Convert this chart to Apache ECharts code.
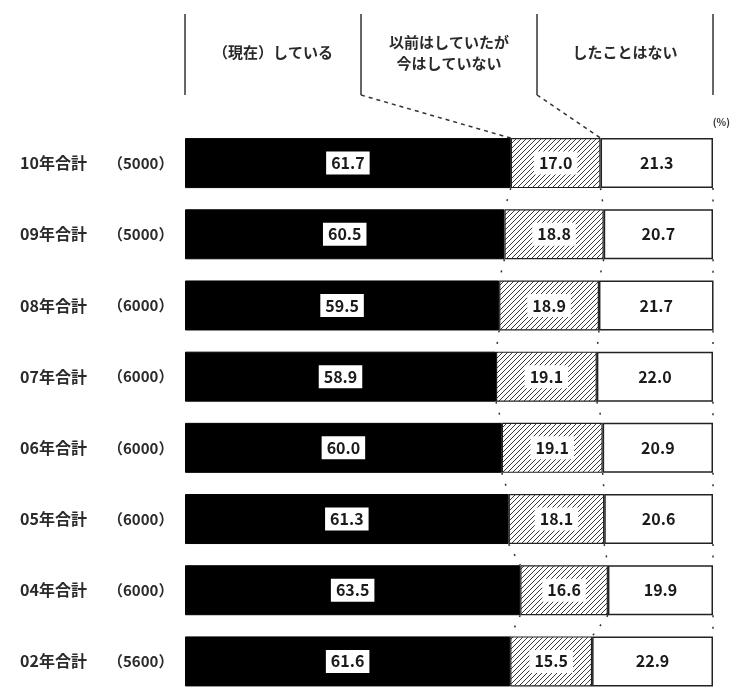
<!DOCTYPE html>
<html><head><meta charset="utf-8">
<script src="https://cdn.jsdelivr.net/npm/echarts@6/dist/echarts.min.js"></script>
<style>html,body{margin:0;padding:0;background:#fff}#c{width:732px;height:697px}</style>
</head><body><div id="c"></div>
<script>
const years = ['10年合計','09年合計','08年合計','07年合計','06年合計','05年合計','04年合計','02年合計'];
const sampleSizes = ['5000','5000','6000','6000','6000','6000','6000','5600'];
const currentlyDoing = [61.7,60.5,59.5,58.9,60.0,61.3,63.5,61.6];
const previouslyDid = [17.0,18.8,18.9,19.1,19.1,18.1,16.6,15.5];
const neverDid = [21.3,20.7,21.7,22.0,20.9,20.6,19.9,22.9];
const headerLabels = ['（現在）している','以前はしていたが\n今はしていない','したことはない'];
const unitLabel = '(%)';

const FONT = '"Noto Sans CJK JP", "Noto Sans", sans-serif';
const cum1 = currentlyDoing.slice();
const cum2 = currentlyDoing.map((v,i)=>v+previouslyDid[i]);
const BAR_W = 50;

function hatch(){
  const s=5, c=document.createElement('canvas'); c.width=s; c.height=s;
  const g=c.getContext('2d'); g.fillStyle='#fff'; g.fillRect(0,0,s,s);
  g.strokeStyle='#3a3a3a'; g.lineWidth=1;
  g.beginPath();
  g.moveTo(0,s); g.lineTo(s,0);
  g.moveTo(-1,1); g.lineTo(1,-1);
  g.moveTo(s-1,s+1); g.lineTo(s+1,s-1);
  g.stroke();
  return c;
}

const chart = echarts.init(document.getElementById('c'), null, {renderer:'canvas'});
const boxLabel = {
  show:true, position:'inside', formatter:p=>p.value.toFixed(1),
  backgroundColor:'#fff', color:'#1a1a1a', fontSize:16, fontWeight:'bold',
  fontFamily:FONT, padding:[4,5,3,5]
};
chart.setOption({
  animation:false,
  textStyle:{fontFamily:FONT},
  grid:{left:185, right:19, top:127.5, height:584, containLabel:false},
  xAxis:{type:'value', min:0, max:100, show:false},
  yAxis:{type:'category', data:years, inverse:true,
    axisLine:{show:false}, axisTick:{show:false}, splitLine:{show:false},
    axisLabel:{align:'left', margin:165, fontFamily:FONT,
      formatter:(v,i)=>'{a|'+v+'}{b|（'+sampleSizes[i]+'）}',
      rich:{a:{width:88, fontSize:16, color:'#2a2a2a', fontWeight:'bold', fontFamily:FONT},
            b:{fontSize:15, color:'#2a2a2a', fontWeight:'bold', fontFamily:FONT}}}},
  series:[
    {type:'bar', stack:'t', data:currentlyDoing, barWidth:BAR_W,
      itemStyle:{color:'#000', borderColor:'#000', borderWidth:1}, label:boxLabel},
    {type:'bar', stack:'t', data:previouslyDid, barWidth:BAR_W,
      itemStyle:{color:{image:hatch(), repeat:'repeat'}, borderColor:'#222', borderWidth:1.2}, label:boxLabel},
    {type:'bar', stack:'t', data:neverDid, barWidth:BAR_W,
      itemStyle:{color:'#fff', borderColor:'#222', borderWidth:1.5},
      label:{show:true, position:'inside', formatter:p=>p.value.toFixed(1), color:'#1a1a1a', fontSize:16, fontWeight:'bold', fontFamily:FONT}},
    {type:'custom', data:years.slice(0,-1).map((_,i)=>[0,i]), silent:true, z:1,
      renderItem:(params, api)=>{
        const i = params.dataIndex;
        const half = BAR_W/2;
        const pairs = [[cum1[i],cum1[i+1]],[cum2[i],cum2[i+1]],[100,100]];
        return {type:'group', children:pairs.map(pr=>{
          const a = api.coord([pr[0], i]); const b = api.coord([pr[1], i+1]);
          return {type:'line', shape:{x1:a[0], y1:a[1]+half, x2:b[0], y2:b[1]-half},
            style:{stroke:'#333', lineWidth:1.5, lineDash:[2,9.5]}};
        })};
      }}
  ]
});

// header built from the axis scale
const px = v => chart.convertToPixel({xAxisIndex:0}, v);
const py = i => chart.convertToPixel({yAxisIndex:0}, i);
const divs = [0, 100/3, 200/3, 100].map(px);
const lineTop = 14, lineBot = 95;
const g = [];
divs.forEach(x=>g.push({type:'line', shape:{x1:x, y1:lineTop, x2:x, y2:lineBot}, style:{stroke:'#333', lineWidth:1.5}}));
headerLabels.forEach((t,k)=>g.push({type:'text', x:(divs[k]+divs[k+1])/2, y:(lineTop+lineBot)/2 - 2,
  style:{text:t, fontSize:15, fontWeight:'bold', fill:'#2a2a2a', align:'center', verticalAlign:'middle', lineHeight:21, fontFamily:FONT}}));
const barTop = py(0) - BAR_W/2;
g.push({type:'line', shape:{x1:divs[1], y1:lineBot, x2:px(cum1[0]), y2:barTop}, style:{stroke:'#333', lineWidth:1.5, lineDash:[4,4]}});
g.push({type:'line', shape:{x1:divs[2], y1:lineBot, x2:px(cum2[0]), y2:barTop}, style:{stroke:'#333', lineWidth:1.5, lineDash:[4,4]}});
g.push({type:'text', x:730, y:barTop-21, style:{text:unitLabel, fontSize:10, fontWeight:'bold', fill:'#333', align:'right', fontFamily:FONT}});
chart.setOption({graphic:g});
</script></body></html>
